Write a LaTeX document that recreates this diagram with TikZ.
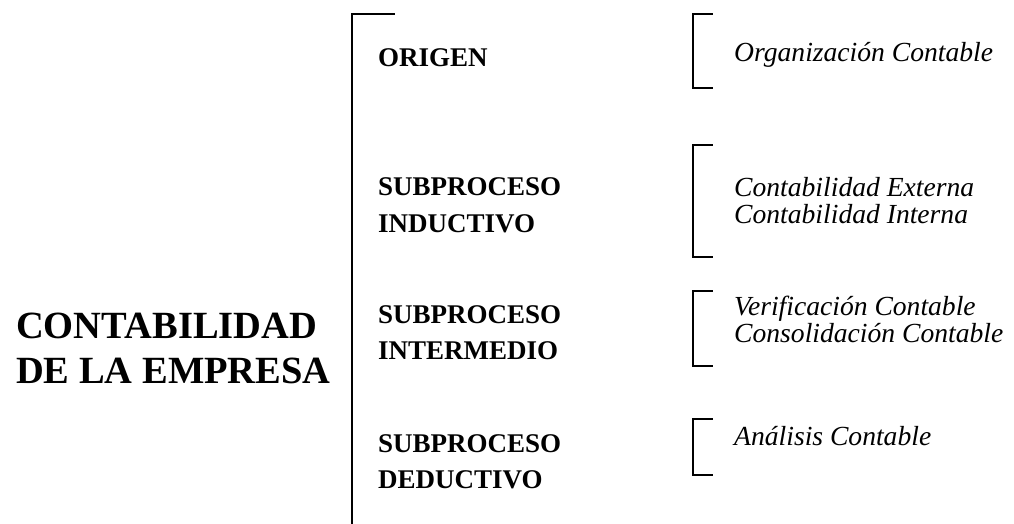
\documentclass[tikz,border=0pt]{standalone}
\usepackage{fontspec}
\setmainfont{Liberation Serif}
\begin{document}
\begin{tikzpicture}[x=1pt,y=-1pt,
  rule/.style={line width=1.7pt,line cap=rect},
  bigtxt/.style={inner sep=0pt,anchor=base west,font=\fontsize{38.5}{45}\selectfont\bfseries},
  boldtxt/.style={inner sep=0pt,anchor=base west,font=\fontsize{27}{37}\selectfont\bfseries},
  itxt/.style={inner sep=0pt,anchor=base west,font=\fontsize{27.6}{27}\selectfont\itshape}]
\useasboundingbox (0,0) rectangle (1014,524);
% main vertical rule and tick
\coordinate (mtop) at (352,14);
\coordinate (mbot) at (352,524);
\coordinate (mtick) at (394,14);
\draw[rule] (mtick) -- (mtop) -- (mbot);
% brackets
\coordinate (b1t) at (693,14);  \coordinate (b1b) at (693,88);
\coordinate (b2t) at (693,145); \coordinate (b2b) at (693,257);
\coordinate (b3t) at (693,291); \coordinate (b3b) at (693,366);
\coordinate (b4t) at (693,419); \coordinate (b4b) at (693,475);
\draw[rule] ([xshift=19pt]b1t) -- (b1t) -- (b1b) -- ([xshift=19pt]b1b);
\draw[rule] ([xshift=19pt]b2t) -- (b2t) -- (b2b) -- ([xshift=19pt]b2b);
\draw[rule] ([xshift=19pt]b3t) -- (b3t) -- (b3b) -- ([xshift=19pt]b3b);
\draw[rule] ([xshift=19pt]b4t) -- (b4t) -- (b4b) -- ([xshift=19pt]b4b);
% left title
\node[bigtxt] (t1) at (16,338) {CONTABILIDAD};
\node[bigtxt] (t2) at (16,383) {DE LA EMPRESA};
% middle labels
\node[boldtxt] (org) at (378,67) {ORIGEN};
\node[boldtxt] (ind1) at (378,195) {SUBPROCESO};
\node[boldtxt] (ind2) at (378,232) {INDUCTIVO};
\node[boldtxt] (int1) at (378,323) {SUBPROCESO};
\node[boldtxt] (int2) at (378,359) {INTERMEDIO};
\node[boldtxt] (ded1) at (378,452) {SUBPROCESO};
\node[boldtxt] (ded2) at (378,488) {DEDUCTIVO};
% right items
\node[itxt] (r1) at (734,62) {Organización Contable};
\node[itxt] (r2) at (734,196) {Contabilidad Externa};
\node[itxt] (r3) at (734,223) {Contabilidad Interna};
\node[itxt] (r4) at (734,315) {Verificación Contable};
\node[itxt] (r5) at (734,342) {Consolidación Contable};
\node[itxt] (r6) at (734,445) {Análisis Contable};
\end{tikzpicture}
\end{document}
